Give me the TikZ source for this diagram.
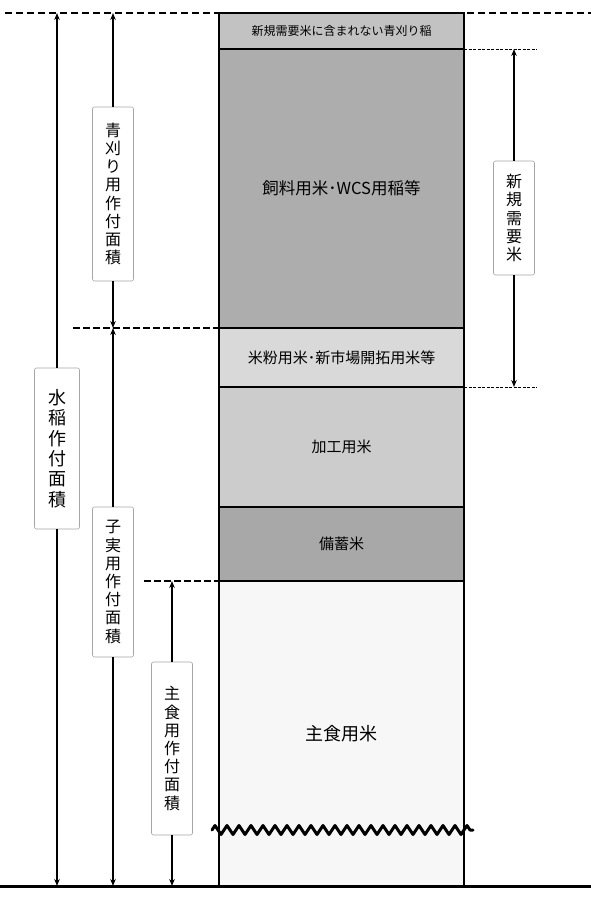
\documentclass[tikz,border=0pt]{standalone}
\usepackage{fontspec}
\setmainfont{Noto Sans CJK JP}
\usetikzlibrary{arrows.meta, decorations.pathmorphing}

\begin{document}
\begin{tikzpicture}[x=1pt, y=-1pt,
		seg/.style={draw, line width=1.5pt, minimum width=245pt, inner sep=0pt, outer sep=0pt, font=\fontsize{15}{18}\selectfont},
		lbl/.style={draw=gray!70, fill=white, rounded corners=2pt, line width=0.6pt, minimum width=41pt, inner sep=0pt, align=center, font=\fontsize{16}{18.2}\selectfont},
		dim/.style={line width=1.6pt, -{Stealth[length=7pt, width=5.5pt]}}]
			\useasboundingbox (0,0) rectangle (591,902);
			% Column
			\node[seg, fill=black!24, minimum height=36pt, font=\fontsize{12}{14}\selectfont] (aogari) at (341.5,31) {新規需要米に含まれない青刈り稲};
			\node[seg, fill=black!32, minimum height=279pt, font=\fontsize{16.5}{18}\selectfont] (shiryo) at (341.5,188.5) {飼料用米･WCS用稲等};
			\node[seg, fill=black!15, minimum height=59pt] (komeko) at (341.5,357.5) {米粉用米･新市場開拓用米等};
			\node[seg, fill=black!20, minimum height=120pt] (kako) at (341.5,447) {加工用米};
			\node[seg, fill=black!34, minimum height=74pt] (bichiku) at (341.5,544) {備蓄米};
			\node[seg, fill=black!3, minimum height=305pt, font=\fontsize{18}{20}\selectfont] (shushoku) at (341.5,733.5) {主食用米};
			% Dashed lines
			\draw[line width=2.2pt, dash pattern=on 7pt off 4pt] (5,13) -- (591,13);
			\draw[line width=1.8pt, dash pattern=on 7pt off 3pt] (73,328) -- (shiryo.south west);
			\draw[line width=1.8pt, dash pattern=on 7pt off 3pt] (144,581) -- (bichiku.south west);
			\draw[line width=0.9pt, dash pattern=on 3pt off 1.5pt] (shiryo.north east) -- (537,49);
			\draw[line width=0.9pt, dash pattern=on 3pt off 1.5pt] (komeko.south east) -- (537,387);
			% Arrow ends
			\coordinate (suitoTop) at (57,13);
			\coordinate (suitoBot) at (57,886);
			\coordinate (aoTop) at (113,13);
			\coordinate (aoBot) at (113,328);
			\coordinate (shijitsuTop) at (113,328);
			\coordinate (shijitsuBot) at (113,886);
			\coordinate (shuTop) at (172,581);
			\coordinate (shuBot) at (172,886);
			\coordinate (shinkiTop) at (514,49);
			\coordinate (shinkiBot) at (514,387);
			% Labels
			\node[lbl, minimum width=45pt, minimum height=161pt, font=\fontsize{18}{20.4}\selectfont] (suito) at (57,448.5) {水\\稲\\作\\付\\面\\積};
			\node[lbl, minimum height=174pt] (ao) at (113,194) {青\\刈\\り\\用\\作\\付\\面\\積};
			\node[lbl, minimum height=150pt] (shijitsu) at (113,582) {子\\実\\用\\作\\付\\面\\積};
			\node[lbl, minimum height=173pt] (shu) at (172,748.5) {主\\食\\用\\作\\付\\面\\積};
			\node[lbl, minimum height=114pt] (shinki) at (514,218) {新\\規\\需\\要\\米};
			% Arrows
			\draw[dim] (suito) -- (suitoTop);
			\draw[dim] (suito) -- (suitoBot);
			\draw[dim] (ao) -- (aoTop);
			\draw[dim] (ao) -- (aoBot);
			\draw[dim] (shijitsu) -- (shijitsuTop);
			\draw[dim] (shijitsu) -- (shijitsuBot);
			\draw[dim] (shu) -- (shuTop);
			\draw[dim] (shu) -- (shuBot);
			\draw[dim] (shinki) -- (shinkiTop);
			\draw[dim] (shinki) -- (shinkiBot);
			% Base line and cut mark
			\draw[line width=3pt] (0,886) -- (591,886);
			\draw[line width=3pt, line join=round, line cap=round, decorate, decoration={zigzag, segment length=12pt, amplitude=4.5pt}] (212,830) -- (473,830);
		\end{tikzpicture}
\end{document}
